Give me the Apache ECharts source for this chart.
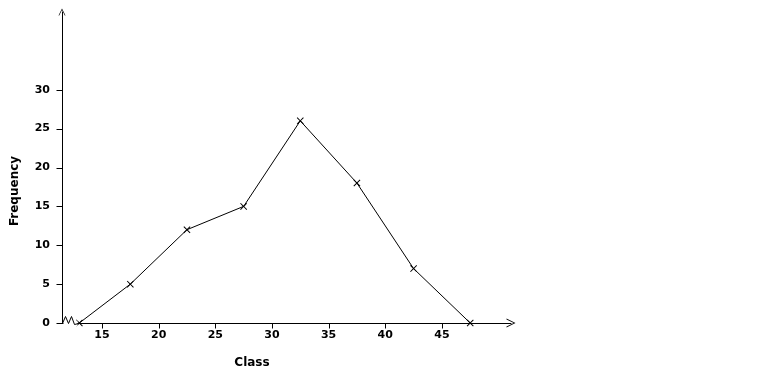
<!DOCTYPE html>
<html><head><meta charset="utf-8">
<script src="https://cdn.jsdelivr.net/npm/echarts@6/dist/echarts.min.js"></script>
<style>html,body{margin:0;padding:0;background:#fff}#c{width:779px;height:379px}</style>
</head><body><div id="c"></div>
<script>
// Data
var classMarks = [13, 17.5, 22.5, 27.5, 32.5, 37.5, 42.5, 47.5];
var frequencies = [0, 5, 12, 15, 26, 18, 7, 0];
var xTickValues = [15, 20, 25, 30, 35, 40, 45];
var yTickValues = [0, 5, 10, 15, 20, 25, 30];
var xTitle = 'Class';
var yTitle = 'Frequency';

var FONT = '"DejaVu Sans", Verdana, sans-serif';
var chart = echarts.init(document.getElementById('c'), null, {renderer: 'canvas'});
var crossPath = 'path://M0,1 L1,0 L5,4 L9,0 L10,1 L6,5 L10,9 L9,10 L5,6 L1,10 L0,9 L4,5 Z';
var chevron = 'path://M0,10 L5,0 L10,10 L9,10 L5,2 L1,10 Z';
var X_MIN = 11.47, X_MAX = 51.1;

var option = {
  animation: false,
  backgroundColor: '#fff',
  grid: {left: 62, right: 268, top: 12, bottom: 56},
  xAxis: {
    type: 'value', min: X_MIN, max: X_MAX,
    splitLine: {show: false},
    axisLine: {show: true, lineStyle: {color: '#000', width: 1},
      symbol: ['none', chevron], symbolSize: [9, 9], symbolOffset: [0, 0]},
    axisTick: {show: false},
    axisLabel: {color: '#000', fontFamily: FONT, fontWeight: 'bold', fontSize: 11, margin: 7, customValues: xTickValues}
  },
  yAxis: {
    type: 'value', min: 0, max: 40, interval: 5,
    splitLine: {show: false},
    axisLine: {show: true, lineStyle: {color: '#000', width: 1},
      symbol: ['none', chevron], symbolSize: [7, 9], symbolOffset: [0, 0]},
    axisTick: {show: false},
    axisLabel: {color: '#000', fontFamily: FONT, fontWeight: 'bold', fontSize: 11, margin: 12, customValues: yTickValues}
  },
  series: [{
    type: 'line',
    data: classMarks.map(function (x, i) { return [x, frequencies[i]]; }),
    symbol: crossPath, symbolSize: 7, showAllSymbol: true,
    lineStyle: {color: '#000', width: 1},
    itemStyle: {color: '#000'},
    z: 5
  }]
};
chart.setOption(option);

// Ticks, axis titles and the axis-break zigzag (decoration), placed through the axes' own scales
var o = chart.convertToPixel({gridIndex: 0}, [X_MIN, 0]);
var ox = Math.round(o[0]) + 0.5, oy = Math.round(o[1]) + 0.5;
var g = [];
xTickValues.forEach(function (v) {
  var p = chart.convertToPixel({gridIndex: 0}, [v, 0]);
  var px = Math.round(p[0]) + 0.5;
  g.push({type: 'line', shape: {x1: px, y1: oy, x2: px, y2: oy + 5}, style: {stroke: '#000', lineWidth: 1}, z: 12});
});
yTickValues.forEach(function (v) {
  var p = chart.convertToPixel({gridIndex: 0}, [X_MIN, v]);
  var py = Math.round(p[1]) + 0.5;
  g.push({type: 'line', shape: {x1: ox - 6, y1: py, x2: ox, y2: py}, style: {stroke: '#000', lineWidth: 1}, z: 12});
});
g.push({type: 'rect', shape: {x: ox + 1, y: oy - 3, width: 14, height: 6}, style: {fill: '#fff'}, z: 10});
g.push({type: 'polyline', shape: {points: [[ox, oy], [ox + 3, oy - 7], [ox + 6, oy], [ox + 9, oy - 7], [ox + 12, oy + 1], [ox + 16, oy]]},
  style: {stroke: '#000', lineWidth: 1, fill: null}, z: 11});
g.push({type: 'text', x: 252, y: 363, style: {text: xTitle, font: 'bold 12px ' + FONT, fill: '#000', textAlign: 'center', textVerticalAlign: 'middle'}});
g.push({type: 'text', x: 15, y: 191, rotation: Math.PI / 2, style: {text: yTitle, font: 'bold 12px ' + FONT, fill: '#000', textAlign: 'center', textVerticalAlign: 'middle'}});
chart.setOption({graphic: g});
</script>
</body></html>
